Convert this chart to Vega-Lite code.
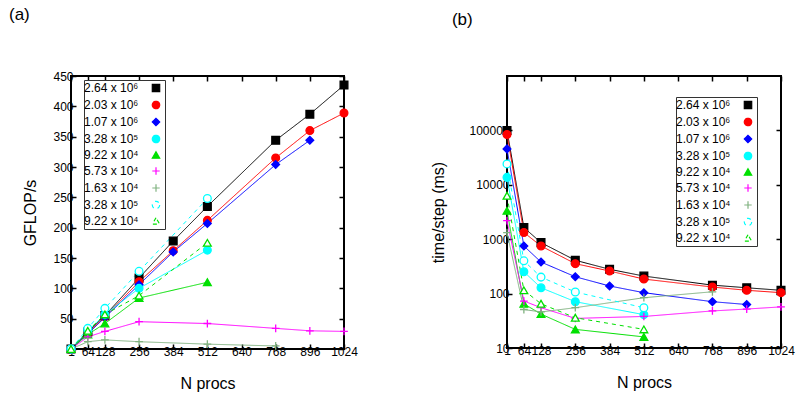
{
  "$schema": "https://vega.github.io/schema/vega-lite/v6.json",
  "padding": {"left": 7, "top": 5, "right": 5, "bottom": 5},
  "background": "white",
  "config": {
    "view": {"stroke": "black", "strokeWidth": 2},
    "font": "Liberation Sans",
    "axis": {
      "grid": false, "domain": false, "tickColor": "black", "tickSize": -5, "tickWidth": 1.5,
      "labelFont": "Liberation Sans", "labelFontSize": 12, "labelColor": "black",
      "titleFont": "Liberation Sans", "titleFontSize": 16, "titleFontWeight": "normal", "titleColor": "black",
      "labelFlush": false, "labelOverlap": false
    },
    "legend": {
      "orient": "none", "direction": "vertical", "strokeColor": "#333333", "fillColor": "white",
      "padding": 2, "labelFont": "Liberation Sans", "labelFontSize": 12, "labelColor": "black",
      "rowPadding": 3, "symbolSize": 55, "symbolStrokeWidth": 1.2, "symbolOffset": 64, "labelOffset": -78
    }
  },
  "datasets": {
    "a": [
      {"s":"s1","n":1,"v":0},{"s":"s1","n":64,"v":28},{"s":"s1","n":128,"v":55},{"s":"s1","n":256,"v":117},{"s":"s1","n":384,"v":178},{"s":"s1","n":512,"v":235},{"s":"s1","n":768,"v":344},{"s":"s1","n":896,"v":387},{"s":"s1","n":1024,"v":435},
      {"s":"s2","n":1,"v":0},{"s":"s2","n":64,"v":26},{"s":"s2","n":128,"v":53},{"s":"s2","n":256,"v":111},{"s":"s2","n":384,"v":162},{"s":"s2","n":512,"v":212},{"s":"s2","n":768,"v":315},{"s":"s2","n":896,"v":360},{"s":"s2","n":1024,"v":389},
      {"s":"s3","n":1,"v":0},{"s":"s3","n":64,"v":25},{"s":"s3","n":128,"v":52},{"s":"s3","n":256,"v":106},{"s":"s3","n":384,"v":160},{"s":"s3","n":512,"v":207},{"s":"s3","n":768,"v":304},{"s":"s3","n":896,"v":344},
      {"s":"s4","n":1,"v":0},{"s":"s4","n":64,"v":30},{"s":"s4","n":128,"v":57},{"s":"s4","n":256,"v":100},{"s":"s4","n":512,"v":163},
      {"s":"s5","n":1,"v":0},{"s":"s5","n":64,"v":24},{"s":"s5","n":128,"v":42},{"s":"s5","n":256,"v":84},{"s":"s5","n":512,"v":110},
      {"s":"s6","n":1,"v":0},{"s":"s6","n":64,"v":20},{"s":"s6","n":128,"v":29},{"s":"s6","n":256,"v":45},{"s":"s6","n":512,"v":42},{"s":"s6","n":768,"v":34},{"s":"s6","n":896,"v":30},{"s":"s6","n":1024,"v":29},
      {"s":"s7","n":1,"v":0},{"s":"s7","n":64,"v":12},{"s":"s7","n":128,"v":15},{"s":"s7","n":256,"v":12},{"s":"s7","n":512,"v":8},{"s":"s7","n":768,"v":5},
      {"s":"s8","n":1,"v":0},{"s":"s8","n":64,"v":34},{"s":"s8","n":128,"v":67},{"s":"s8","n":256,"v":128},{"s":"s8","n":512,"v":248},
      {"s":"s9","n":1,"v":0},{"s":"s9","n":64,"v":30},{"s":"s9","n":128,"v":57},{"s":"s9","n":256,"v":88},{"s":"s9","n":512,"v":175}
    ],
    "b": [
      {"s":"s1","n":1,"v":100000},{"s":"s1","n":64,"v":1640},{"s":"s1","n":128,"v":865},{"s":"s1","n":256,"v":410},{"s":"s1","n":384,"v":280},{"s":"s1","n":512,"v":210},{"s":"s1","n":768,"v":143},{"s":"s1","n":896,"v":128},{"s":"s1","n":1024,"v":115},
      {"s":"s2","n":1,"v":84000},{"s":"s2","n":64,"v":1330},{"s":"s2","n":128,"v":750},{"s":"s2","n":256,"v":355},{"s":"s2","n":384,"v":260},{"s":"s2","n":512,"v":185},{"s":"s2","n":768,"v":132},{"s":"s2","n":896,"v":115},{"s":"s2","n":1024,"v":104},
      {"s":"s3","n":1,"v":45700},{"s":"s3","n":64,"v":750},{"s":"s3","n":128,"v":380},{"s":"s3","n":256,"v":204},{"s":"s3","n":384,"v":138},{"s":"s3","n":512,"v":104},{"s":"s3","n":768,"v":71},{"s":"s3","n":896,"v":63},
      {"s":"s4","n":1,"v":13700},{"s":"s4","n":64,"v":252},{"s":"s4","n":128,"v":128},{"s":"s4","n":256,"v":71},{"s":"s4","n":512,"v":41},
      {"s":"s5","n":1,"v":3330},{"s":"s5","n":64,"v":65},{"s":"s5","n":128,"v":42},{"s":"s5","n":256,"v":22},{"s":"s5","n":512,"v":16},
      {"s":"s6","n":1,"v":2200},{"s":"s6","n":64,"v":73},{"s":"s6","n":128,"v":55},{"s":"s6","n":256,"v":35},{"s":"s6","n":512,"v":38},{"s":"s6","n":768,"v":48},{"s":"s6","n":896,"v":52},{"s":"s6","n":1024,"v":57},
      {"s":"s7","n":1,"v":1325},{"s":"s7","n":64,"v":51},{"s":"s7","n":128,"v":46},{"s":"s7","n":256,"v":55},{"s":"s7","n":512,"v":84},{"s":"s7","n":768,"v":108},
      {"s":"s8","n":1,"v":24200},{"s":"s8","n":64,"v":400},{"s":"s8","n":128,"v":201},{"s":"s8","n":256,"v":107},{"s":"s8","n":512,"v":55},
      {"s":"s9","n":1,"v":6300},{"s":"s9","n":64,"v":115},{"s":"s9","n":128,"v":65},{"s":"s9","n":256,"v":36},{"s":"s9","n":512,"v":22}
    ]
  },
  "hconcat": [
    {
      "width": 273, "height": 273,
      "title": {"text": "(a)", "anchor": "start", "frame": "bounds", "fontSize": 17, "fontWeight": "normal", "font": "Liberation Sans", "offset": 46, "dx": -14},
      "data": {"name": "a"},
      "resolve": {"axis": {"x": "independent", "y": "independent"}},
      "layer": [
        {
          "mark": {"type": "line", "strokeWidth": 1},
          "encoding": {
            "x": {"field": "n", "type": "quantitative", "scale": {"domain": [1, 1024], "nice": false}, "axis": {"values": [1,64,128,256,384,512,640,768,896,1024], "format": "d", "labelOverlap": false, "title": "N procs", "titlePadding": 18}},
            "y": {"field": "v", "type": "quantitative", "scale": {"domain": [0, 450], "nice": false}, "axis": {"values": [0,50,100,150,200,250,300,350,400,450], "labelOverlap": false, "title": "GFLOP/s", "titlePadding": 14, "labelPadding": 3}},
            "stroke": {"field": "s", "type": "nominal", "scale": {"domain": ["s1","s2","s3","s4","s5","s6","s7","s8","s9"], "range": ["#000000","#ff0000","#0000ff","#00ffff","#00e000","#ff00ff","#80b280","#00ffff","#00e000"]},
              "legend": {"title": null, "legendX": 13, "legendY": 4,
                "labelExpr": "['2.64 x 10⁶','2.03 x 10⁶','1.07 x 10⁶','3.28 x 10⁵','9.22 x 10⁴','5.73 x 10⁴','1.63 x 10⁴','3.28 x 10⁵','9.22 x 10⁴'][indexof(['s1','s2','s3','s4','s5','s6','s7','s8','s9'], datum.value)]"}},
            "strokeDash": {"field": "s", "type": "nominal", "scale": {"domain": ["s1","s2","s3","s4","s5","s6","s7","s8","s9"], "range": [[1,0],[1,0],[1,0],[1,0],[1,0],[1,0],[1,0],[4,4],[4,4]]}, "legend": null}
          }
        },
        {
          "mark": {"type": "point", "opacity": 1, "strokeWidth": 1.3, "filled": true},
          "encoding": {
            "x": {"field": "n", "type": "quantitative", "axis": null},
            "y": {"field": "v", "type": "quantitative", "axis": null},
            "stroke": {"field": "s", "type": "nominal", "legend": {"title": null, "legendX": 13, "legendY": 4}},
            "fill": {"field": "s", "type": "nominal", "scale": {"domain": ["s1","s2","s3","s4","s5","s6","s7","s8","s9"], "range": ["#000000","#ff0000","#0000ff","#00ffff","#00e000","transparent","transparent","#ffffff","#ffffff"]}, "legend": {"title": null, "legendX": 13, "legendY": 4}},
            "shape": {"field": "s", "type": "nominal", "scale": {"domain": ["s1","s2","s3","s4","s5","s6","s7","s8","s9"], "range": ["square","circle","diamond","circle","triangle-up","M-1,0L1,0M0,-1L0,1","M-1,0L1,0M0,-1L0,1","circle","triangle-up"]}, "legend": {"title": null, "legendX": 13, "legendY": 4}},
            "size": {"value": 60}
          }
        },
        {
          "mark": {"type": "point", "opacity": 0},
          "encoding": {
            "x": {"field": "n", "type": "quantitative", "axis": {"orient": "top", "values": [1,64,128,256,384,512,640,768,896,1024], "labels": false, "title": null}},
            "y": {"field": "v", "type": "quantitative", "axis": {"orient": "right", "values": [0,50,100,150,200,250,300,350,400,450], "labels": false, "title": null}}
          }
        }
      ]
    },
    {
      "width": 274, "height": 272,
      "title": {"text": "(b)", "anchor": "start", "frame": "bounds", "fontSize": 17, "fontWeight": "normal", "font": "Liberation Sans", "offset": 46, "dx": 21},
      "data": {"name": "b"},
      "resolve": {"axis": {"x": "independent", "y": "independent"}},
      "layer": [
        {
          "mark": {"type": "line", "strokeWidth": 1},
          "encoding": {
            "x": {"field": "n", "type": "quantitative", "scale": {"domain": [1, 1024], "nice": false}, "axis": {"values": [1,64,128,256,384,512,640,768,896,1024], "format": "d", "labelOverlap": false, "title": "N procs", "titlePadding": 18}},
            "y": {"field": "v", "type": "quantitative", "scale": {"type": "log", "domain": [10, 1000000], "nice": false}, "axis": {"values": [10,100,1000,10000,100000], "labelOverlap": false, "format": "d", "title": "time/step (ms)", "titlePadding": 22, "labelPadding": 3}},
            "stroke": {"field": "s", "type": "nominal", "scale": {"domain": ["s1","s2","s3","s4","s5","s6","s7","s8","s9"], "range": ["#000000","#ff0000","#0000ff","#00ffff","#00e000","#ff00ff","#80b280","#00ffff","#00e000"]},
              "legend": {"title": null, "legendX": 169, "legendY": 21,
                "labelExpr": "['2.64 x 10⁶','2.03 x 10⁶','1.07 x 10⁶','3.28 x 10⁵','9.22 x 10⁴','5.73 x 10⁴','1.63 x 10⁴','3.28 x 10⁵','9.22 x 10⁴'][indexof(['s1','s2','s3','s4','s5','s6','s7','s8','s9'], datum.value)]"}},
            "strokeDash": {"field": "s", "type": "nominal", "scale": {"domain": ["s1","s2","s3","s4","s5","s6","s7","s8","s9"], "range": [[1,0],[1,0],[1,0],[1,0],[1,0],[1,0],[1,0],[4,4],[4,4]]}, "legend": null}
          }
        },
        {
          "mark": {"type": "point", "opacity": 1, "strokeWidth": 1.3, "filled": true},
          "encoding": {
            "x": {"field": "n", "type": "quantitative", "axis": null},
            "y": {"field": "v", "type": "quantitative", "axis": null},
            "stroke": {"field": "s", "type": "nominal", "legend": {"title": null, "legendX": 169, "legendY": 21}},
            "fill": {"field": "s", "type": "nominal", "scale": {"domain": ["s1","s2","s3","s4","s5","s6","s7","s8","s9"], "range": ["#000000","#ff0000","#0000ff","#00ffff","#00e000","transparent","transparent","#ffffff","#ffffff"]}, "legend": {"title": null, "legendX": 169, "legendY": 21}},
            "shape": {"field": "s", "type": "nominal", "scale": {"domain": ["s1","s2","s3","s4","s5","s6","s7","s8","s9"], "range": ["square","circle","diamond","circle","triangle-up","M-1,0L1,0M0,-1L0,1","M-1,0L1,0M0,-1L0,1","circle","triangle-up"]}, "legend": {"title": null, "legendX": 169, "legendY": 21}},
            "size": {"value": 60}
          }
        },
        {
          "mark": {"type": "point", "opacity": 0},
          "encoding": {
            "x": {"field": "n", "type": "quantitative", "axis": {"orient": "top", "values": [1,64,128,256,384,512,640,768,896,1024], "labels": false, "title": null}},
            "y": {"field": "v", "type": "quantitative", "axis": {"orient": "right", "values": [10,100,1000,10000,100000], "labels": false, "title": null}}
          }
        }
      ]
    }
  ],
  "spacing": 70,
  "resolve": {
    "scale": {"stroke": "independent", "fill": "independent", "shape": "independent", "strokeDash": "independent"},
    "legend": {"stroke": "independent", "fill": "independent", "shape": "independent", "strokeDash": "independent"}
  }
}
